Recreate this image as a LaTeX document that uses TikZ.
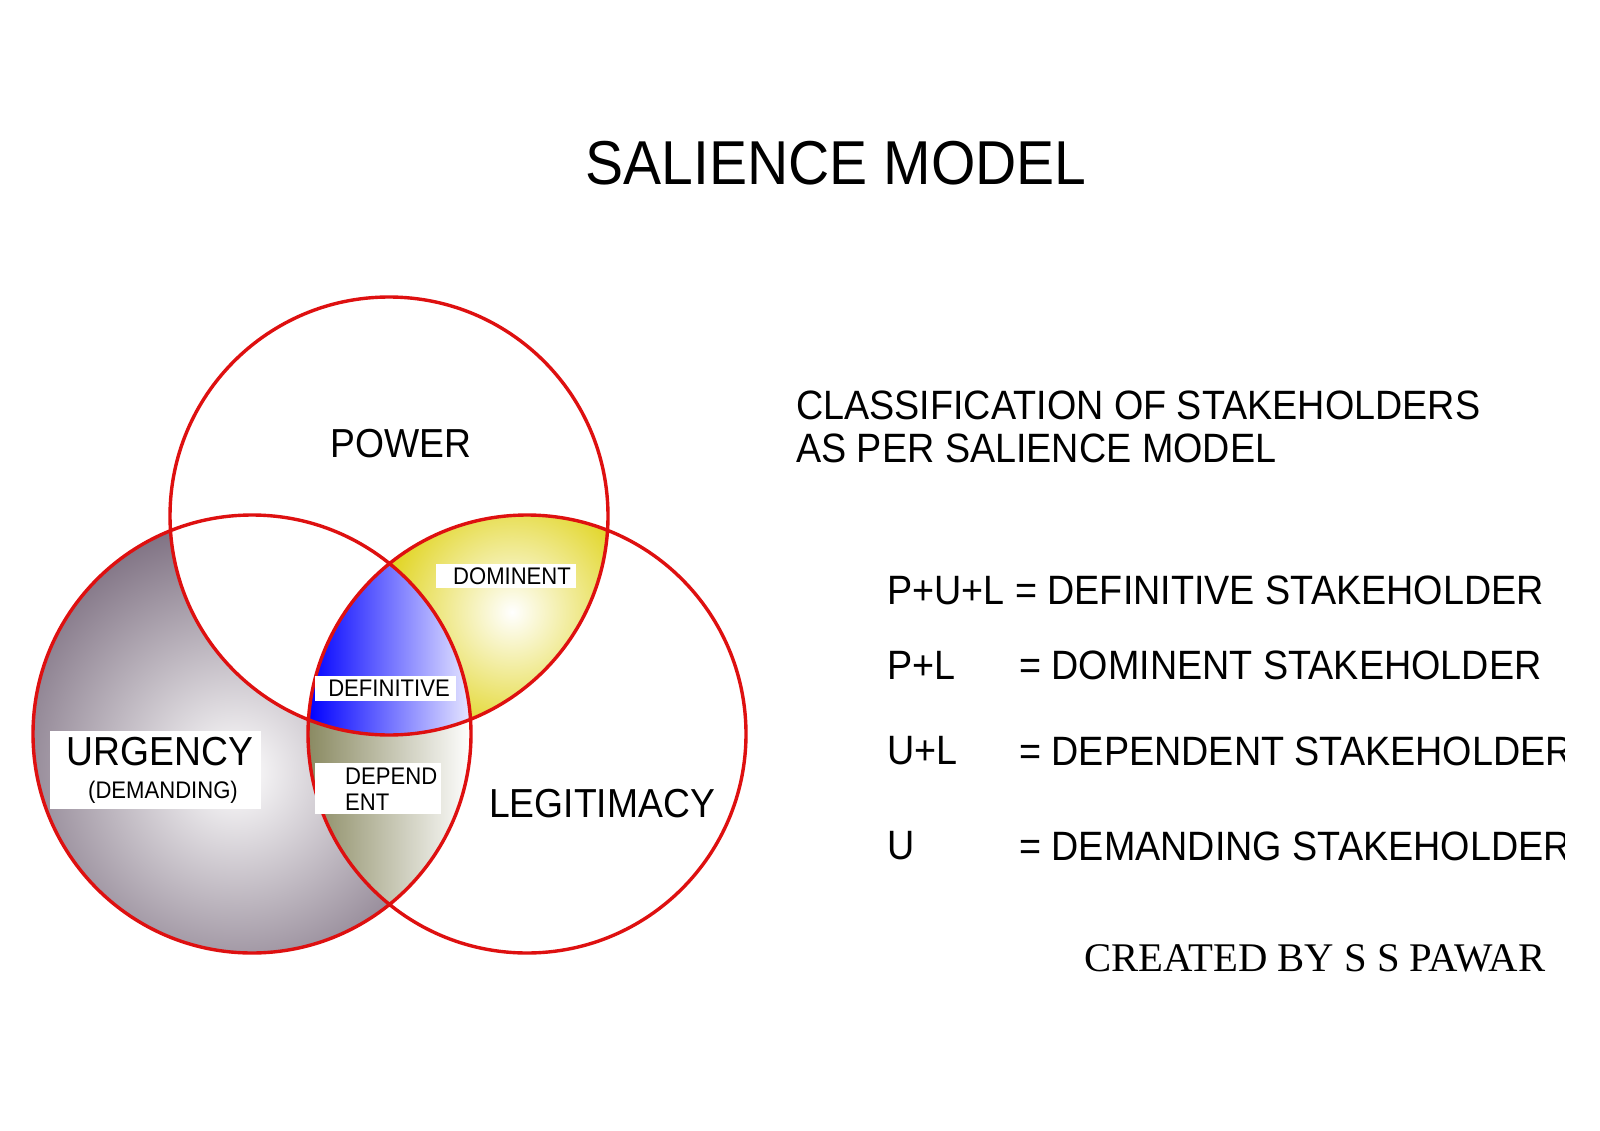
\documentclass[tikz,border=0pt]{standalone}
\usepackage{fontspec}
\setmainfont[FakeStretch=0.92]{Liberation Sans}
\newfontfamily\credfont{Liberation Serif}
\usepackage{tikz}
\usetikzlibrary{positioning}
\usetikzlibrary{calc}

\definecolor{vennred}{RGB}{222,16,16}
\definecolor{urggray}{RGB}{122,108,126}
\definecolor{domyellow}{RGB}{220,206,0}
\definecolor{depolive}{RGB}{138,138,98}
\definecolor{defblue}{RGB}{0,0,255}
\definecolor{deflight}{RGB}{232,232,255}
\newcommand{\vennr}{219}

\begin{document}
\begin{tikzpicture}[x=1pt, y=-1pt,
    vennline/.style={draw=vennred, line width=3.4pt},
    labelbox/.style={fill=white, inner sep=0pt},
    biglabel/.style={inner sep=0pt, font=\fontsize{40.5}{44}\selectfont},
    smalllabel/.style={inner sep=0pt, font=\fontsize{24}{26}\selectfont},
    rowtext/.style={inner sep=0pt, anchor=west, font=\fontsize{41}{44}\selectfont}]

    \useasboundingbox (0,0) rectangle (1600,1131);
    \fill[white] (0,0) rectangle (1600,1131);

    \coordinate (P) at (389,516);
    \coordinate (U) at (252,734);
    \coordinate (L) at (527,734);

    % urgency only
    \begin{scope}
        \clip (U) circle (\vennr);
        \shade[inner color=white, outer color=urggray] (236,772) circle (262);
        \fill[white] (P) circle (\vennr);
    \end{scope}
    % power + legitimacy
    \begin{scope}
        \clip (P) circle (\vennr);
        \clip (L) circle (\vennr);
        \shade[inner color=white, outer color=domyellow] (512,612) circle (150);
    \end{scope}
    % urgency + legitimacy
    \begin{scope}
        \clip (U) circle (\vennr);
        \clip (L) circle (\vennr);
        \shade[left color=depolive, right color=white] (308,500) rectangle (472,960);
    \end{scope}
    % all three
    \begin{scope}
        \clip (U) circle (\vennr);
        \clip (L) circle (\vennr);
        \clip (P) circle (\vennr);
        \shade[left color=defblue, right color=deflight] (308,500) rectangle (472,760);
    \end{scope}

    \draw[vennline] (P) circle (\vennr) (U) circle (\vennr) (L) circle (\vennr);

    \node[font=\fontsize{62}{66}\selectfont, inner sep=0pt] (title) at (836,163) {SALIENCE MODEL};

    \node[biglabel] (power) at (401,444) {POWER};
    \node[labelbox, minimum width=211pt, minimum height=78pt] (urgbox) at (155.5,770) {};
    \node[biglabel] (urgency) at (160,752) {URGENCY};
    \node[smalllabel] (demanding) at (163,792) {(DEMANDING)};
    \node[biglabel] (legit) at (602,804) {LEGITIMACY};

    \node[labelbox, minimum width=140pt, minimum height=24pt] (dombox) at (506,576) {};
    \node[smalllabel] (dom) at (512,576) {DOMINENT};
    \node[labelbox, minimum width=141pt, minimum height=25pt] (defbox) at (385.5,688.5) {};
    \node[smalllabel] (def) at (389,688) {DEFINITIVE};
    \node[labelbox, minimum width=126pt, minimum height=51pt] (depbox) at (378,788.5) {};
    \node[smalllabel, anchor=west] (dep) at (345,776) {DEPEND};
    \node[smalllabel, anchor=west] (depent) at (345,802) {ENT};

    \node[rowtext] (cls1) at (796,405) {CLASSIFICATION OF STAKEHOLDERS};
    \node[rowtext, below=14pt of cls1.south west, anchor=north west] (cls2) {AS PER SALIENCE MODEL};

    \begin{scope}
        \clip (0,0) rectangle (1564,1131);
        \node[rowtext] (pul) at (887,590) {P+U+L = DEFINITIVE STAKEHOLDER};
        \node[rowtext] (pl) at (887,665) {P+L};
        \node[rowtext] (plr) at (1019,665) {= DOMINENT STAKEHOLDER};
        \node[rowtext] (ul) at (887,751) {U+L};
        \node[rowtext] (ulr) at (1019,751) {= DEPENDENT STAKEHOLDER};
        \node[rowtext] (u) at (887,846) {U};
        \node[rowtext] (ur) at (1019,846) {= DEMANDING STAKEHOLDER};
    \end{scope}

    \node[inner sep=0pt, anchor=west, font=\credfont\fontsize{40.7}{44}\selectfont] (credit) at (1084,958) {CREATED BY S S PAWAR};

\end{tikzpicture}
\end{document}
